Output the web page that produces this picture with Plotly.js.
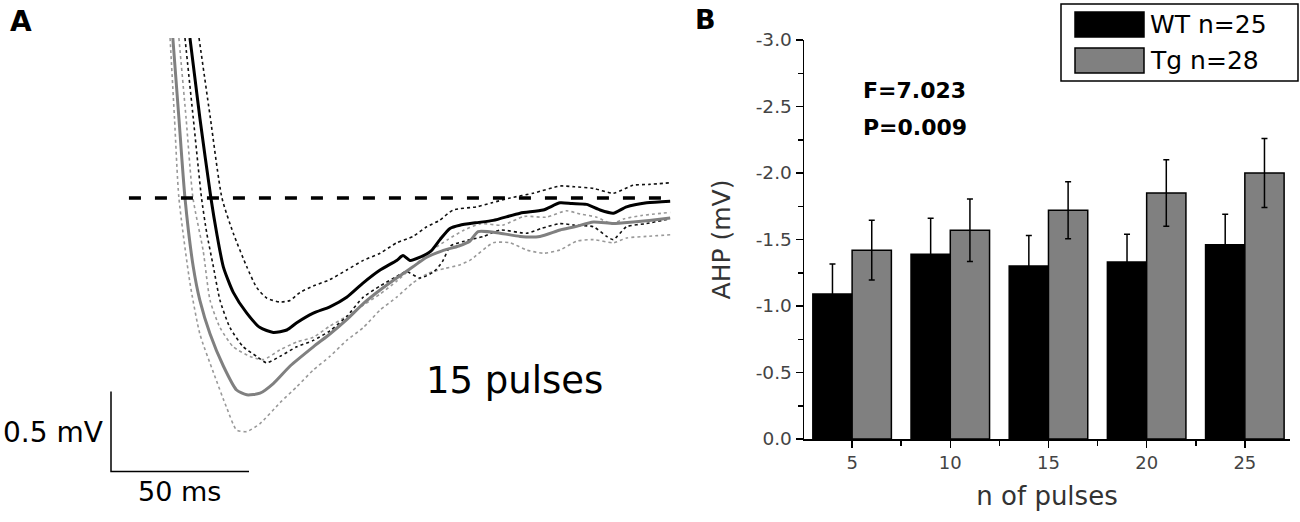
<!DOCTYPE html>
<html>
<head>
<meta charset="utf-8">
<script src="https://cdn.plot.ly/plotly-3.0.1.min.js"></script>
<style>html,body{margin:0;padding:0;background:#fff;}#chart{width:1300px;height:522px;}</style>
</head>
<body>
<div id="chart"></div>
<script>
// ---------- Panel B data ----------
const pulses = [5, 10, 15, 20, 25];
const pulseLabels = ['5', '10', '15', '20', '25'];
const wtAHP = [-1.09, -1.39, -1.30, -1.33, -1.46];
const wtSEM = [0.225, 0.27, 0.23, 0.21, 0.23];
const tgAHP = [-1.42, -1.57, -1.72, -1.85, -2.00];
const tgSEM = [0.225, 0.235, 0.215, 0.25, 0.26];
const yTickVals = [0, -0.5, -1.0, -1.5, -2.0, -2.5, -3.0];
const yTickText = ['0.0', '-0.5', '-1.0', '-1.5', '-2.0', '-2.5', '-3.0'];

// ---------- Panel A data (time in ms, voltage in mV relative to baseline) ----------
const wtMeanT = [28.6, 32.2, 36.2, 38.3, 40.7, 44.3, 49.2, 54.0, 58.8, 63.7, 67.3, 73.3, 79.3, 85.4, 91.4, 97.5, 103.5, 105.8, 108.3, 112.0, 116.0, 119.2, 122.8, 126.4, 132.0, 138.5, 148.2, 156.6, 162.7, 167.0, 172.3, 177.2, 182.0, 186.8, 194.1, 202.6];
const wtMeanV = [1.0, 0.5, 0.0, -0.22, -0.43, -0.59, -0.72, -0.81, -0.84, -0.825, -0.78, -0.72, -0.68, -0.62, -0.53, -0.45, -0.39, -0.36, -0.39, -0.37, -0.33, -0.26, -0.19, -0.17, -0.155, -0.14, -0.095, -0.075, -0.03, -0.035, -0.04, -0.075, -0.095, -0.055, -0.03, -0.02];
const wtUpT = [31.9, 36.0, 40.2, 44.3, 49.2, 52.8, 56.4, 61.2, 64.9, 68.5, 73.3, 79.3, 85.4, 91.4, 97.5, 103.5, 109.4, 114.4, 119.0, 124.0, 132.5, 138.0, 144.6, 153.0, 162.7, 168.0, 174.8, 182.0, 189.2, 195.0, 202.6];
const wtUpV = [1.0, 0.5, 0.0, -0.22, -0.43, -0.56, -0.625, -0.65, -0.64, -0.59, -0.55, -0.51, -0.45, -0.39, -0.345, -0.28, -0.24, -0.18, -0.14, -0.075, -0.055, -0.03, 0.0, 0.03, 0.075, 0.07, 0.06, 0.03, 0.08, 0.085, 0.095];
const wtLoT = [26.8, 29.8, 32.8, 34.7, 37.1, 39.5, 43.1, 47.9, 52.8, 56.4, 61.2, 67.3, 73.3, 79.3, 85.4, 91.4, 97.5, 103.5, 107.0, 112.0, 117.0, 120.0, 123.0, 128.0, 135.0, 141.0, 150.6, 156.0, 162.7, 168.0, 174.8, 179.6, 182.0, 186.8, 194.0, 202.6];
const wtLoV = [1.0, 0.5, 0.0, -0.22, -0.43, -0.64, -0.81, -0.93, -0.99, -1.03, -0.99, -0.93, -0.89, -0.83, -0.74, -0.62, -0.55, -0.49, -0.46, -0.50, -0.46, -0.40, -0.30, -0.27, -0.24, -0.20, -0.22, -0.19, -0.16, -0.17, -0.18, -0.24, -0.26, -0.18, -0.16, -0.13];
const tgMeanT = [22.4, 24.6, 26.8, 29.8, 32.2, 35.9, 40.7, 45.5, 49.2, 54.0, 58.8, 64.9, 73.3, 79.3, 85.4, 91.4, 97.5, 103.5, 109.4, 114.4, 120.0, 126.0, 130.0, 133.0, 141.0, 148.2, 155.4, 162.7, 168.0, 174.8, 182.0, 189.2, 195.0, 202.6];
const tgMeanV = [1.0, 0.5, 0.0, -0.43, -0.64, -0.85, -1.05, -1.2, -1.23, -1.22, -1.16, -1.05, -0.93, -0.85, -0.76, -0.66, -0.575, -0.50, -0.43, -0.37, -0.33, -0.30, -0.27, -0.21, -0.22, -0.24, -0.24, -0.20, -0.18, -0.15, -0.16, -0.15, -0.14, -0.125];
const tgUpT = [24.6, 27.2, 29.7, 33.4, 35.9, 39.5, 44.3, 50.4, 55.2, 61.2, 67.3, 73.3, 79.3, 85.4, 91.4, 97.5, 103.5, 110.0, 116.0, 122.0, 128.0, 134.0, 141.8, 149.7, 157.6, 165.0, 170.0, 176.0, 181.3, 186.0, 192.0, 202.6];
const tgUpV = [1.0, 0.5, 0.0, -0.33, -0.64, -0.81, -0.93, -0.99, -1.01, -0.95, -0.9, -0.87, -0.80, -0.74, -0.67, -0.6, -0.52, -0.42, -0.33, -0.26, -0.20, -0.16, -0.17, -0.115, -0.12, -0.08, -0.10, -0.12, -0.16, -0.13, -0.11, -0.09];
const tgLoT = [21.4, 23.0, 24.6, 28.6, 32.2, 37.1, 41.9, 45.5, 49.2, 54.0, 61.2, 67.3, 73.3, 79.3, 85.4, 91.4, 97.5, 103.5, 109.4, 115.0, 121.0, 126.0, 130.0, 138.5, 144.6, 150.6, 156.6, 162.7, 168.7, 174.8, 182.0, 186.8, 194.0, 202.6];
const tgLoV = [1.0, 0.5, 0.0, -0.53, -0.85, -1.09, -1.31, -1.45, -1.46, -1.41, -1.28, -1.18, -1.075, -0.99, -0.89, -0.81, -0.70, -0.62, -0.53, -0.47, -0.44, -0.42, -0.39, -0.28, -0.28, -0.325, -0.345, -0.325, -0.27, -0.26, -0.28, -0.25, -0.24, -0.23];
const baselineT = [6.5, 202.6];
const baselineV = [0, 0];
const scaleBarT = [0, 0, 50];
const scaleBarV = [-1.21, -1.71, -1.71];

const W = 1300, H = 522;
const px = x => x / W;
const py = y => 1 - y / H;
const FONT = 'DejaVu Sans, Arial, sans-serif';

const traces = [];
// Panel A traces
function lineTrace(t, v, color, width, dash) {
  return {x: t, y: v, xaxis: 'x2', yaxis: 'y2', type: 'scatter', mode: 'lines',
          line: {color: color, width: width, dash: dash, shape: 'spline', smoothing: 0.6},
          showlegend: false, hoverinfo: 'skip'};
}
traces.push(lineTrace(tgLoT, tgLoV, '#999', 1.6, 'dot'));
traces.push(lineTrace(tgUpT, tgUpV, '#999', 1.6, 'dot'));
traces.push(lineTrace(wtLoT, wtLoV, '#111', 1.6, 'dot'));
traces.push(lineTrace(wtUpT, wtUpV, '#111', 1.6, 'dot'));
traces.push(lineTrace(tgMeanT, tgMeanV, '#808080', 3, 'solid'));
traces.push(lineTrace(wtMeanT, wtMeanV, '#000', 3, 'solid'));
traces.push({x: baselineT, y: baselineV, xaxis: 'x2', yaxis: 'y2', type: 'scatter', mode: 'lines',
             line: {color: '#000', width: 3.5, dash: '12px,14px'}, showlegend: false, hoverinfo: 'skip'});
traces.push({x: scaleBarT, y: scaleBarV, xaxis: 'x2', yaxis: 'y2', type: 'scatter', mode: 'lines',
             line: {color: '#000', width: 1.5}, showlegend: false, hoverinfo: 'skip'});

// Panel B bars
traces.push({x: pulses, y: wtAHP, type: 'bar', name: 'WT n=25',
             marker: {color: '#000', line: {color: '#000', width: 1.5}},
             error_y: {type: 'data', array: wtSEM, visible: true, color: '#000', thickness: 1.5, width: 3},
             showlegend: false});
traces.push({x: pulses, y: tgAHP, type: 'bar', name: 'Tg n=28',
             marker: {color: '#808080', line: {color: '#000', width: 1.5}},
             error_y: {type: 'data', array: tgSEM, visible: true, color: '#000', thickness: 1.5, width: 3},
             showlegend: false});

const layout = {
  width: W, height: H,
  margin: {l: 0, r: 0, t: 0, b: 0},
  paper_bgcolor: '#fff', plot_bgcolor: 'rgba(0,0,0,0)',
  font: {family: FONT, color: '#000'},
  barmode: 'group', bargap: 0.2, bargroupgap: 0,
  showlegend: false,
  xaxis: {
    domain: [px(804), px(1290)], range: [2.55, 27.3],
    tickmode: 'array', tickvals: pulses, ticktext: pulseLabels,
    ticks: 'outside', ticklen: 7, tickwidth: 1.5, tickcolor: '#000',
    minor: {tickmode: 'array', tickvals: [7.5, 12.5, 17.5, 22.5], ticks: 'outside', ticklen: 5, tickwidth: 1.5, tickcolor: '#000'},
    showline: true, linecolor: '#000', linewidth: 1.5,
    showgrid: false, zeroline: false,
    tickfont: {size: 18, color: '#444', family: FONT},
    title: {text: 'n of pulses', font: {size: 26, color: '#333', family: FONT}, standoff: 14},
    fixedrange: true
  },
  yaxis: {
    domain: [py(439), py(40)], range: [0, -3],
    tickmode: 'array', tickvals: yTickVals, ticktext: yTickText,
    ticks: 'outside', ticklen: 7, tickwidth: 1.5, tickcolor: '#000',
    minor: {tickmode: 'array', tickvals: [-0.25, -0.75, -1.25, -1.75, -2.25, -2.75], ticks: 'outside', ticklen: 5, tickwidth: 1.5, tickcolor: '#000'},
    showline: true, linecolor: '#000', linewidth: 1.5,
    showgrid: false, zeroline: false,
    tickfont: {size: 18.5, color: '#444', family: FONT},
    title: {text: 'AHP (mV)', font: {size: 25, color: '#333', family: FONT}, standoff: 18},
    fixedrange: true
  },
  xaxis2: {
    domain: [0, px(680)], range: [-111 / 2.76, 569 / 2.76], anchor: 'y2',
    showline: false, showgrid: false, zeroline: false, showticklabels: false, ticks: '', fixedrange: true
  },
  yaxis2: {
    domain: [0, py(38)], range: [-2.025, 1.0], anchor: 'x2',
    showline: false, showgrid: false, zeroline: false, showticklabels: false, ticks: '', fixedrange: true
  },
  shapes: [
    {type: 'rect', xref: 'paper', yref: 'paper', x0: px(1061), x1: px(1298), y0: py(81), y1: py(4),
     line: {color: '#000', width: 1.5}, fillcolor: 'rgba(0,0,0,0)'},
    {type: 'rect', xref: 'paper', yref: 'paper', x0: px(1075), x1: px(1144), y0: py(37), y1: py(12),
     line: {color: '#000', width: 1.5}, fillcolor: '#000'},
    {type: 'rect', xref: 'paper', yref: 'paper', x0: px(1075), x1: px(1144), y0: py(73), y1: py(48),
     line: {color: '#000', width: 1.5}, fillcolor: '#808080'}
  ],
  annotations: [
    {xref: 'paper', yref: 'paper', x: px(8), y: py(21), xanchor: 'left', yanchor: 'middle', showarrow: false,
     text: '<b>A</b>', font: {size: 28, family: FONT, color: '#000'}},
    {xref: 'paper', yref: 'paper', x: px(693), y: py(20), xanchor: 'left', yanchor: 'middle', showarrow: false,
     text: '<b>B</b>', font: {size: 27, family: FONT, color: '#000'}},
    {xref: 'paper', yref: 'paper', x: px(514), y: py(380), xanchor: 'center', yanchor: 'middle', showarrow: false,
     text: '15 pulses', font: {size: 37, family: FONT, color: '#000'}},
    {xref: 'paper', yref: 'paper', x: px(105), y: py(432), xanchor: 'right', yanchor: 'middle', showarrow: false,
     text: '0.5 mV', font: {size: 28, family: FONT, color: '#000'}},
    {xref: 'paper', yref: 'paper', x: px(179), y: py(491), xanchor: 'center', yanchor: 'middle', showarrow: false,
     text: '50 ms', font: {size: 27, family: FONT, color: '#000'}},
    {xref: 'paper', yref: 'paper', x: px(861), y: py(90), xanchor: 'left', yanchor: 'middle', showarrow: false,
     text: '<b>F=7.023</b>', font: {size: 22, family: FONT, color: '#000'}},
    {xref: 'paper', yref: 'paper', x: px(861), y: py(128), xanchor: 'left', yanchor: 'middle', showarrow: false,
     text: '<b>P=0.009</b>', font: {size: 22, family: FONT, color: '#000'}},
    {xref: 'paper', yref: 'paper', x: px(1148), y: py(25), xanchor: 'left', yanchor: 'middle', showarrow: false,
     text: 'WT n=25', font: {size: 25, family: FONT, color: '#000'}},
    {xref: 'paper', yref: 'paper', x: px(1148), y: py(61), xanchor: 'left', yanchor: 'middle', showarrow: false,
     text: 'Tg n=28', font: {size: 25, family: FONT, color: '#000'}}
  ]
};

Plotly.newPlot('chart', traces, layout, {staticPlot: true, displayModeBar: false});
</script>
</body>
</html>
